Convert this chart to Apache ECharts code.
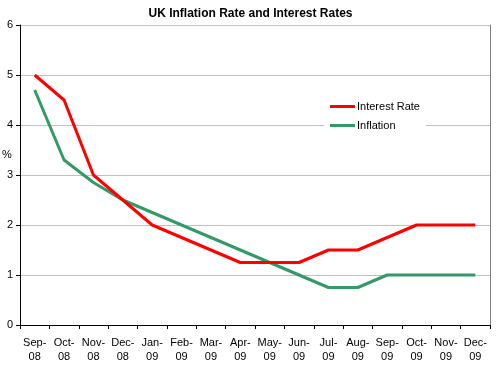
<!DOCTYPE html>
<html><head><meta charset="utf-8">
<script src="https://cdn.jsdelivr.net/npm/echarts@6/dist/echarts.min.js"></script>
<style>html,body{margin:0;padding:0;background:#fff}#c{width:501px;height:381px}</style>
</head><body><div id="c"></div>
<script>
var categories = ["Sep-08","Oct-08","Nov-08","Dec-08","Jan-09","Feb-09","Mar-09","Apr-09","May-09","Jun-09","Jul-09","Aug-09","Sep-09","Oct-09","Nov-09","Dec-09"];
var interestRate = [5.0,4.5,3.0,2.5,2.0,1.75,1.5,1.25,1.25,1.25,1.5,1.5,1.75,2.0,2.0,2.0];
var inflation = [4.7,3.3,2.85,2.5,2.25,2.0,1.75,1.5,1.25,1.0,0.75,0.75,1.0,1.0,1.0,1.0];
var yTicks = [0,1,2,3,4,5,6];
var font = "'Liberation Sans', Arial, sans-serif";
var chart = echarts.init(document.getElementById('c'));
chart.setOption({
  animation: false,
  textStyle: {fontFamily: font},
  title: {text: 'UK Inflation Rate and Interest Rates', left: 'center', top: 3,
    textStyle: {fontSize: 12, fontWeight: 'bold', color: '#000', fontFamily: font}},
  graphic: [{type: 'text', left: 2, top: 149,
    style: {text: '%', fontSize: 11, fill: '#000', fontFamily: font}}],
  legend: {orient: 'vertical', left: 324, top: 98, itemWidth: 25, itemHeight: 3, itemGap: 8,
    icon: 'rect', backgroundColor: '#fff', padding: [3, 6, 3, 6],
    textStyle: {fontSize: 11, color: '#000', fontFamily: font, padding: [0,0,0,-3]},
    data: ['Interest Rate', 'Inflation']},
  grid: {left: 20, right: 11, top: 25, bottom: 56, containLabel: false, outerBoundsMode: 'none'},
  xAxis: {type: 'category', data: categories, boundaryGap: true,
    axisLine: {lineStyle: {color: '#000'}},
    axisTick: {show: true, alignWithLabel: false, length: 4, lineStyle: {color: '#000'}},
    axisLabel: {interval: 0, fontSize: 11, color: '#000', lineHeight: 14, margin: 11,
      formatter: function (v) { return v.replace('-', '-\n'); }},
    splitLine: {show: false}},
  yAxis: [{type: 'value', min: yTicks[0], max: yTicks[yTicks.length-1], interval: 1,
    axisLine: {show: true, lineStyle: {color: '#000'}},
    axisTick: {show: true, length: 4, lineStyle: {color: '#000'}},
    axisLabel: {fontSize: 11, color: '#000', margin: 7},
    splitLine: {lineStyle: {color: '#c0c0c0'}}},
   {type: 'value', position: 'right', min: 0, max: 6, interval: 1,
    axisLine: {show: true, lineStyle: {color: '#808080'}},
    axisTick: {show: false}, axisLabel: {show: false}, splitLine: {show: false}}],
  series: [
    {name: 'Interest Rate', type: 'line', data: interestRate, symbol: 'none',
      lineStyle: {width: 3, color: '#ff0000'}, itemStyle: {color: '#ff0000'}, z: 3},
    {name: 'Inflation', type: 'line', data: inflation, symbol: 'none',
      lineStyle: {width: 3, color: '#339966'}, itemStyle: {color: '#339966'}, z: 2}
  ]
});
</script></body></html>
